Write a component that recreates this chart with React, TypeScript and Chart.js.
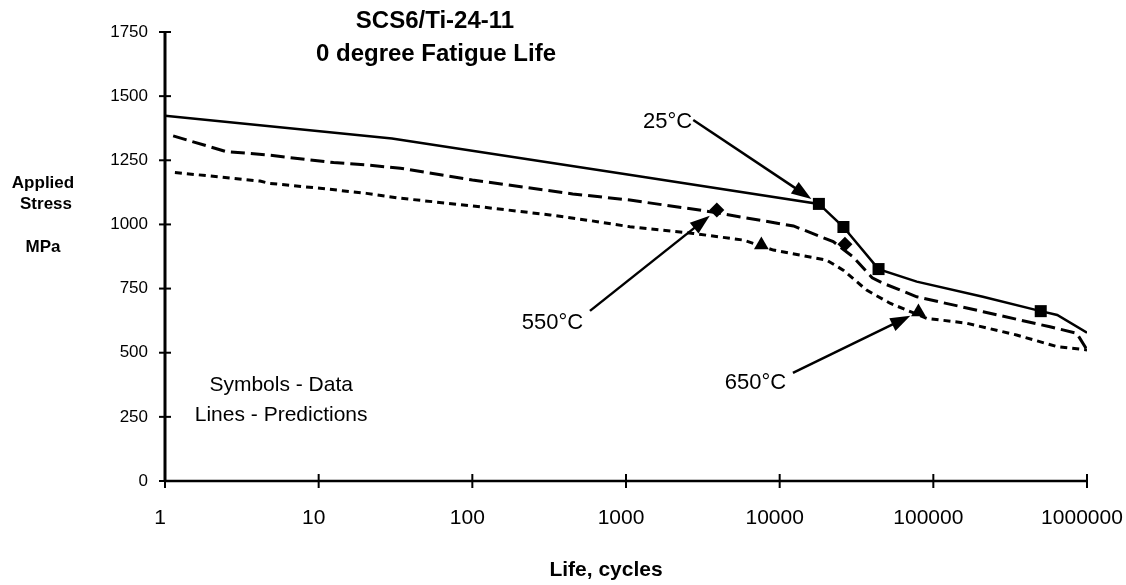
import React, { useEffect, useRef } from 'react';
import { Chart, registerables } from 'chart.js';

Chart.register(...registerables);

const FONT = "'Liberation Sans', Arial, Helvetica, sans-serif";

// Axis ticks
const X_TICKS = [1, 10, 100, 1000, 10000, 100000, 1000000];
const X_TICK_LABELS = ['1', '10', '100', '1000', '10000', '100000', '1000000'];
const Y_TICKS = [0, 250, 500, 750, 1000, 1250, 1500, 1750];
const Y_TICK_LABELS = ['0', '250', '500', '750', '1000', '1250', '1500', '1750'];

// Prediction lines
const LIFE_25 = [1, 30, 1000, 18000, 26000, 44000, 78000, 210000, 500000, 640000, 1000000];
const STRESS_25 = [1424, 1335, 1196, 1080, 990, 826, 777, 718, 662, 647, 578];

const LIFE_550 = [1.13, 2.5, 4.6, 12.5, 20.5, 34, 100, 450, 1060, 3000, 3900, 12300, 22300, 30000, 40000, 47000, 78000, 211000, 574000, 857000, 1000000];
const STRESS_550 = [1345, 1284, 1271, 1241, 1232, 1219, 1173, 1119, 1095, 1056, 1045, 994, 933, 874, 792, 771, 718, 660, 601, 576, 511];

const LIFE_650 = [1.16, 1.96, 4.15, 4.8, 10.2, 20.5, 34, 101, 320, 583, 1060, 2740, 5800, 9100, 20200, 25900, 36800, 52200, 90600, 165000, 348000, 635000, 1000000];
const STRESS_650 = [1202, 1189, 1169, 1160, 1141, 1121, 1102, 1072, 1037, 1015, 991, 965, 939, 900, 861, 822, 744, 693, 634, 615, 569, 524, 511];

// Test data (symbols)
const DATA_25_LIFE = [18000, 26000, 44000, 500000];
const DATA_25_STRESS = [1080, 990, 826, 662];
const DATA_550_LIFE = [3900, 26600];
const DATA_550_STRESS = [1056, 923];
const DATA_650_LIFE = [7600, 80000];
const DATA_650_STRESS = [920, 659];

// Annotations
const NOTE_TEXTS = ['25°C', '550°C', '650°C'];
const NOTE_LIFE = [1862, 332, 6960];
const NOTE_STRESS = [1400, 616, 384];
const ARROW_FROM_LIFE = [2740, 583, 12200];
const ARROW_FROM_STRESS = [1407, 663, 421];
const ARROW_TO_LIFE = [DATA_25_LIFE[0], DATA_550_LIFE[0], DATA_650_LIFE[1]];
const ARROW_TO_STRESS = [DATA_25_STRESS[0], DATA_550_STRESS[0], DATA_650_STRESS[1]];

const KEY_TEXTS = ['Symbols - Data', 'Lines - Predictions'];
const KEY_LIFE = 5.7;
const KEY_STRESS = [374, 257];

const TITLE_LINES = ['SCS6/Ti-24-11', '0 degree Fatigue Life'];
const Y_TITLE_LINES = ['Applied', 'Stress', 'MPa'];
const X_TITLE = 'Life, cycles';

const pts = (xs: number[], ys: number[]) => xs.map((x, i) => ({ x, y: ys[i] }));

const decorPlugin = {
  id: 'decor',
  afterDatasetsDraw(chart: any) {
    const { ctx, scales } = chart;
    const xs = scales.x;
    const ys = scales.y;
    ctx.save();
    ctx.strokeStyle = '#000';
    ctx.fillStyle = '#000';
    // axes
    const ax = xs.left;
    const ay = ys.bottom;
    ctx.lineWidth = 3;
    ctx.beginPath();
    ctx.moveTo(ax, ys.top);
    ctx.lineTo(ax, ay);
    ctx.stroke();
    ctx.lineWidth = 2.5;
    ctx.beginPath();
    ctx.moveTo(ax, ay);
    ctx.lineTo(xs.right, ay);
    ctx.stroke();
    // cross ticks
    ctx.lineWidth = 2;
    Y_TICKS.forEach((v) => {
      const py = ys.getPixelForValue(v);
      ctx.beginPath();
      ctx.moveTo(ax - 6, py);
      ctx.lineTo(ax + 6, py);
      ctx.stroke();
    });
    X_TICKS.forEach((v) => {
      const px = xs.getPixelForValue(v);
      ctx.beginPath();
      ctx.moveTo(px, ay - 7);
      ctx.lineTo(px, ay + 7);
      ctx.stroke();
    });
    // arrows
    for (let i = 0; i < NOTE_TEXTS.length; i++) {
      const x1 = xs.getPixelForValue(ARROW_FROM_LIFE[i]);
      const y1 = ys.getPixelForValue(ARROW_FROM_STRESS[i]);
      const x2 = xs.getPixelForValue(ARROW_TO_LIFE[i]);
      const y2 = ys.getPixelForValue(ARROW_TO_STRESS[i]);
      const ang = Math.atan2(y2 - y1, x2 - x1);
      const c = Math.cos(ang);
      const s = Math.sin(ang);
      const tx = x2 - 9 * c;
      const ty = y2 - 9 * s;
      const hl = 20;
      const hw = 7;
      const bx = tx - hl * c;
      const by = ty - hl * s;
      ctx.lineWidth = 2.5;
      ctx.beginPath();
      ctx.moveTo(x1, y1);
      ctx.lineTo(bx + 2 * c, by + 2 * s);
      ctx.stroke();
      ctx.beginPath();
      ctx.moveTo(tx, ty);
      ctx.lineTo(bx - hw * s, by + hw * c);
      ctx.lineTo(bx + hw * s, by - hw * c);
      ctx.closePath();
      ctx.fill();
    }
    ctx.restore();
  },
  afterDraw(chart: any) {
    const { ctx, scales } = chart;
    const xs = scales.x;
    const ys = scales.y;
    ctx.save();
    ctx.fillStyle = '#000';
    ctx.textAlign = 'center';
    // title
    ctx.textBaseline = 'alphabetic';
    ctx.font = `bold 24px ${FONT}`;
    ctx.fillText(TITLE_LINES[0], 435, 28);
    ctx.fillText(TITLE_LINES[1], 436, 61);
    // y title
    ctx.font = `bold 17px ${FONT}`;
    ctx.fillText(Y_TITLE_LINES[0], 43, 188);
    ctx.fillText(Y_TITLE_LINES[1], 46, 209);
    ctx.fillText(Y_TITLE_LINES[2], 43, 252);
    // x title
    ctx.font = `bold 21px ${FONT}`;
    ctx.textBaseline = 'middle';
    ctx.fillText(X_TITLE, 606, 570);
    // notes
    ctx.font = `22px ${FONT}`;
    for (let i = 0; i < NOTE_TEXTS.length; i++) {
      ctx.fillText(NOTE_TEXTS[i], xs.getPixelForValue(NOTE_LIFE[i]), ys.getPixelForValue(NOTE_STRESS[i]));
    }
    ctx.font = `21px ${FONT}`;
    for (let i = 0; i < KEY_TEXTS.length; i++) {
      ctx.fillText(KEY_TEXTS[i], xs.getPixelForValue(KEY_LIFE), ys.getPixelForValue(KEY_STRESS[i]));
    }
    ctx.restore();
  },
};

export default function App() {
  const ref = useRef<HTMLCanvasElement | null>(null);
  useEffect(() => {
    if (!ref.current) return;
    const lineBase = { showLine: true, pointRadius: 0, borderColor: '#000', fill: false, tension: 0 };
    const chart = new Chart(ref.current, {
      type: 'scatter',
      data: {
        datasets: [
          { ...lineBase, label: '25°C prediction', data: pts(LIFE_25, STRESS_25), borderWidth: 2.5 },
          { ...lineBase, label: '550°C prediction', data: pts(LIFE_550, STRESS_550), borderWidth: 3, borderDash: [14, 6] },
          { ...lineBase, label: '650°C prediction', data: pts(LIFE_650, STRESS_650), borderWidth: 3, borderDash: [7, 5] },
          { label: '25°C data', data: pts(DATA_25_LIFE, DATA_25_STRESS), pointStyle: 'rect', pointRadius: 8.5, backgroundColor: '#000', borderColor: '#000', borderWidth: 0 },
          { label: '550°C data', data: pts(DATA_550_LIFE, DATA_550_STRESS), pointStyle: 'rectRot', pointRadius: 7.5, backgroundColor: '#000', borderColor: '#000', borderWidth: 0 },
          { label: '650°C data', data: pts(DATA_650_LIFE, DATA_650_STRESS), pointStyle: 'triangle', pointRadius: 8.5, backgroundColor: '#000', borderColor: '#000', borderWidth: 0 },
        ],
      },
      options: {
        animation: false,
        responsive: false,
        maintainAspectRatio: false,
        layout: { padding: { top: 32, right: 39, left: 0, bottom: 0 } },
        plugins: { legend: { display: false }, tooltip: { enabled: false }, title: { display: false } },
        scales: {
          x: {
            type: 'logarithmic',
            min: 1,
            max: 1000000,
            afterBuildTicks: (s: any) => {
              s.ticks = X_TICKS.map((v) => ({ value: v }));
            },
            afterFit: (s: any) => {
              s.height = 104;
              s.paddingLeft = 0;
              s.paddingRight = 0;
            },
            ticks: {
              autoSkip: false,
              maxRotation: 0,
              minRotation: 0,
              padding: 25,
              labelOffset: -5,
              color: '#000',
              font: { family: FONT, size: 21 },
              callback: (v: any) => X_TICK_LABELS[X_TICKS.indexOf(Number(v))],
            },
            grid: { display: false, drawTicks: false },
            border: { display: false },
          },
          y: {
            min: 0,
            max: 1750,
            afterBuildTicks: (s: any) => {
              s.ticks = Y_TICKS.map((v) => ({ value: v }));
            },
            afterFit: (s: any) => {
              s.width = 165;
            },
            ticks: {
              padding: 17,
              color: '#000',
              font: { family: FONT, size: 17 },
              callback: (v: any) => Y_TICK_LABELS[Y_TICKS.indexOf(Number(v))],
            },
            grid: { display: false, drawTicks: false },
            border: { display: false },
          },
        },
      },
      plugins: [decorPlugin],
    } as any);
    return () => chart.destroy();
  }, []);
  return (
    <div style={{ position: 'fixed', left: 0, top: 0, width: 1126, height: 585, background: '#fff' }}>
      <canvas ref={ref} width={1126} height={585} style={{ display: 'block' }} />
    </div>
  );
}
